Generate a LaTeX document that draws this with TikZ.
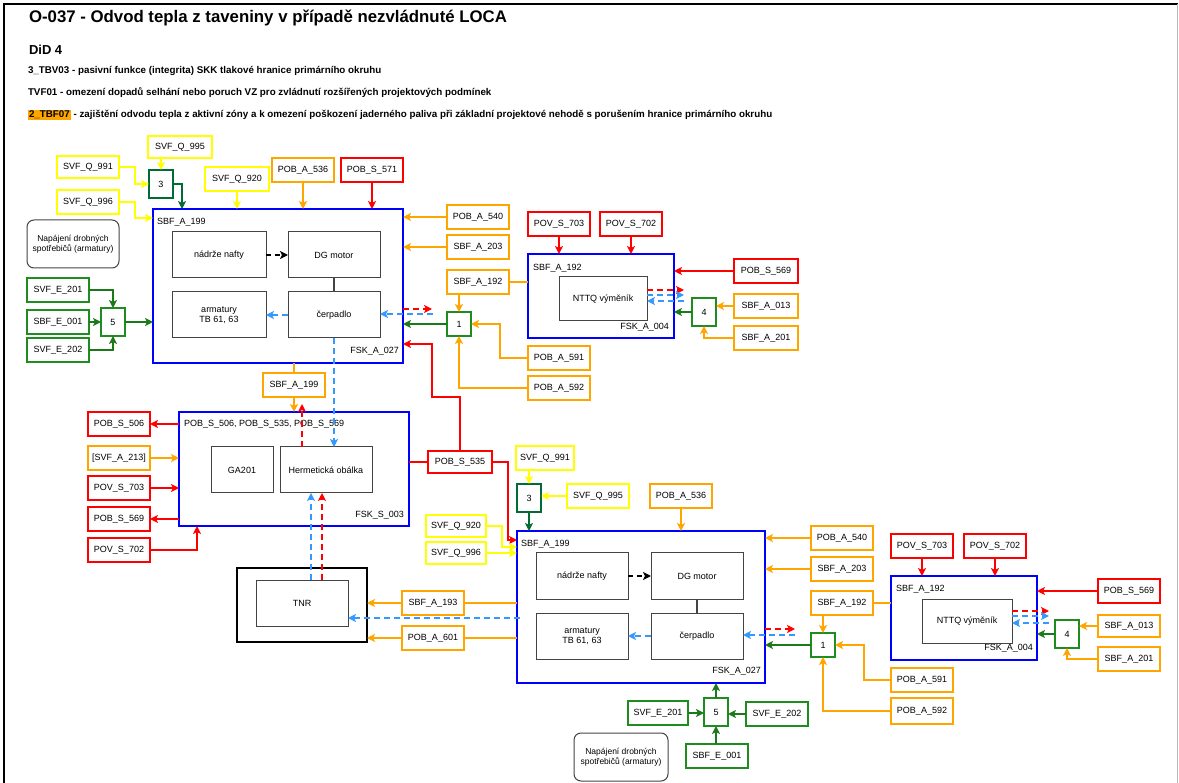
\documentclass[tikz,border=0pt]{standalone}
\usepackage{fontspec}
\setmainfont{Liberation Sans}
\usetikzlibrary{arrows.meta,calc}
\definecolor{cblue}{HTML}{0000FF}
\definecolor{cred}{HTML}{FF0000}
\definecolor{corg}{HTML}{FFA500}
\definecolor{cyel}{HTML}{FFFF00}
\definecolor{cgrn}{HTML}{1E8C1E}
\definecolor{cgrnd}{HTML}{006B33}
\definecolor{cgrna}{HTML}{1A7A1A}
\definecolor{cdash}{HTML}{3399FF}
\definecolor{cgray}{HTML}{444444}
% box given by its corners: style, name, x1, y1, x2, y2, text
% (centre and size are snapped to whole units so the strokes stay sharp)
\newcommand\bx[7]{\node[#1, minimum width={2*round(((#5)-(#3))/2)}, minimum height={2*round(((#6)-(#4))/2)}] (#2) at ({round(((#3)+(#5))/2)},{round(((#4)+(#6))/2)}) {#7};}
\begin{document}
\begin{tikzpicture}[x=1pt,y=-1pt,
  font=\fontsize{9}{10.5}\selectfont,
  box/.style={draw, fill=white, line width=2pt, inner sep=0pt, outer sep=0pt, align=center},
  ybox/.style={box, draw=cyel},
  obox/.style={box, draw=corg},
  rbox/.style={box, draw=cred},
  gbox/.style={box, draw=cgrn},
  gdbox/.style={box, draw=cgrnd},
  cont/.style={draw=cblue, fill=white, line width=2pt, inner sep=0pt, outer sep=0pt},
  inner/.style={draw=cgray, fill=white, line width=1pt, inner sep=0pt, outer sep=0pt, align=center},
  napbox/.style={draw=cgray, fill=white, line width=1pt, rounded corners=7pt, inner sep=0pt, outer sep=0pt, align=center, font=\fontsize{8.5}{10}\selectfont},
  tnrbox/.style={draw=black, fill=white, line width=2.4pt, inner sep=0pt, outer sep=0pt},
  tip/.style={-{Stealth[length=8pt,width=8pt,inset=2pt]}},
  ya/.style={draw=cyel, line width=2pt, tip},
  oa/.style={draw=corg, line width=2pt, tip},
  ol/.style={draw=corg, line width=2pt},
  ra/.style={draw=cred, line width=2pt, tip},
  rl/.style={draw=cred, line width=2pt},
  ga/.style={draw=cgrna, line width=2pt, tip},
  gda/.style={draw=cgrnd, line width=2pt, tip},
  rdash/.style={draw=cred, line width=2pt, dash pattern=on 6pt off 4pt, tip},
  bdash/.style={draw=cdash, line width=2pt, dash pattern=on 6pt off 4pt, tip},
  kdash/.style={draw=black, line width=1.6pt, dash pattern=on 5pt off 4pt, tip},
  lbl/.style={inner sep=0pt, outer sep=0pt}
]
\useasboundingbox (0,0) rectangle (1179,783);
\fill[white] (0,0) rectangle (1179,783);
% page frame
\draw[line width=2pt] (4,783) -- (4,4) -- (1178,4);
\draw[gray!55, line width=1pt] (1177.5,4) -- (1177.5,783);

% ---------- header ----------
\node[lbl, anchor=west, font=\bfseries\fontsize{16.8}{19}\selectfont] (title) at (29,18) {O-037 - Odvod tepla z taveniny v případě nezvládnuté LOCA};
\node[lbl, anchor=west, font=\bfseries\fontsize{13}{15}\selectfont] (did) at (29,50) {DiD 4};
\node[lbl, anchor=west, font=\bfseries\fontsize{9.8}{11}\selectfont] (h1) at (28,71) {3\_TBV03 - pasivní funkce (integrita) SKK tlakové hranice primárního okruhu};
\node[lbl, anchor=west, font=\bfseries\fontsize{9.8}{11}\selectfont] (h2) at (28,93) {TVF01 - omezení dopadů selhání nebo poruch VZ pro zvládnutí rozšířených projektových podmínek};
\node[lbl, anchor=west, font=\bfseries\fontsize{9.8}{11}\selectfont] (h3) at (28,115) {{\setlength\fboxsep{1pt}\colorbox{corg}{2\_TBF07}} - zajištění odvodu tepla z aktivní zóny a k omezení poškození jaderného paliva při základní projektové nehodě s porušením hranice primárního okruhu};

% ---------- upper DG block ----------
\bx{cont}{sbf1}{153}{209}{403}{362}{}
\node[lbl, anchor=west] (sbf1t) at (157,222) {SBF\_A\_199};
\node[lbl, anchor=east] (sbf1b) at (399,351) {FSK\_A\_027};
\bx{inner}{naf1}{172}{232}{265}{277}{nádrže nafty}
\bx{inner}{dg1}{288}{232}{379}{277}{DG motor}
\bx{inner}{arm1}{172}{292}{265}{337}{armatury\\TB 61, 63}
\bx{inner}{cer1}{288}{292}{379}{337}{čerpadlo}

\bx{ybox}{q995}{148}{136}{211}{158}{SVF\_Q\_995}
\bx{ybox}{q991}{57}{156}{119}{178}{SVF\_Q\_991}
\bx{gdbox}{g3a}{149}{170}{173}{197}{3}
\bx{ybox}{q996}{57}{190}{119}{213}{SVF\_Q\_996}
\bx{ybox}{q920}{205}{167}{268}{190}{SVF\_Q\_920}
\bx{obox}{a536}{272}{158}{333}{182}{POB\_A\_536}
\bx{rbox}{s571}{341}{158}{402}{182}{POB\_S\_571}
\bx{napbox}{nap1}{27}{220}{119}{267}{Napájení drobných\\spotřebičů (armatury)}
\bx{gbox}{e201a}{27}{278}{88}{302}{SVF\_E\_201}
\bx{gbox}{e001a}{27}{310}{88}{333}{SBF\_E\_001}
\bx{gbox}{e202a}{27}{338}{88}{362}{SVF\_E\_202}
\bx{gbox}{g5a}{101}{308}{124}{335}{5}

\bx{obox}{a540a}{447}{205}{509}{228}{POB\_A\_540}
\bx{obox}{a203a}{447}{235}{509}{259}{SBF\_A\_203}
\bx{obox}{a192a}{447}{270}{509}{294}{SBF\_A\_192}
\bx{gbox}{g1a}{447}{312}{471}{336}{1}
\bx{obox}{a591a}{528}{346}{590}{370}{POB\_A\_591}
\bx{obox}{a592a}{528}{376}{590}{400}{POB\_A\_592}

% upper heat exchanger block
\bx{rbox}{v703a}{528}{212}{590}{236}{POV\_S\_703}
\bx{rbox}{v702a}{600}{212}{662}{236}{POV\_S\_702}
\bx{cont}{nt1}{528}{254}{673}{338}{}
\node[lbl, anchor=west] (nt1t) at (533,268) {SBF\_A\_192};
\node[lbl, anchor=east] (nt1b) at (669,327) {FSK\_A\_004};
\bx{inner}{ntx1}{559}{277}{647}{320}{NTTQ výměník}
\bx{rbox}{s569a}{734}{259}{797}{282}{POB\_S\_569}
\bx{gbox}{g4a}{692}{298}{716}{326}{4}
\bx{obox}{a013a}{734}{294}{797}{317}{SBF\_A\_013}
\bx{obox}{a201a}{734}{326}{797}{349}{SBF\_A\_201}

% ---------- containment block ----------
\bx{obox}{a199m}{263}{373}{325}{396}{SBF\_A\_199}
\bx{cont}{fsk3}{179}{412}{408}{526}{}
\node[lbl, anchor=west] (fsk3t) at (184,424) {POB\_S\_506, POB\_S\_535, POB\_S\_569};
\node[lbl, anchor=east] (fsk3b) at (404,515) {FSK\_S\_003};
\bx{inner}{ga}{211}{447}{272}{492}{GA201}
\bx{inner}{her}{280}{447}{372}{492}{Hermetická obálka}
\bx{rbox}{s506}{88}{412}{150}{435}{POB\_S\_506}
\bx{obox}{a213}{88}{446}{150}{469}{[SVF\_A\_213]}
\bx{rbox}{v703m}{88}{476}{150}{499}{POV\_S\_703}
\bx{rbox}{s569m}{88}{507}{150}{530}{POB\_S\_569}
\bx{rbox}{v702m}{88}{538}{150}{561}{POV\_S\_702}
\bx{rbox}{s535}{428}{451}{491}{473}{POB\_S\_535}

% ---------- lower DG block ----------
\bx{cont}{sbf2}{517}{531}{765}{683}{}
\node[lbl, anchor=west] (sbf2t) at (521,544) {SBF\_A\_199};
\node[lbl, anchor=east] (sbf2b) at (761,671) {FSK\_A\_027};
\bx{inner}{naf2}{536}{553}{627}{599}{nádrže nafty}
\bx{inner}{dg2}{651}{553}{743}{599}{DG motor}
\bx{inner}{arm2}{536}{613}{627}{659}{armatury\\TB 61, 63}
\bx{inner}{cer2}{651}{613}{743}{659}{čerpadlo}

\bx{ybox}{q991b}{516}{446}{574}{469}{SVF\_Q\_991}
\bx{gdbox}{g3b}{517}{484}{540}{511}{3}
\bx{ybox}{q995b}{567}{484}{628}{508}{SVF\_Q\_995}
\bx{obox}{a536b}{650}{484}{712}{508}{POB\_A\_536}
\bx{ybox}{q920b}{426}{515}{486}{537}{SVF\_Q\_920}
\bx{ybox}{q996b}{426}{542}{486}{564}{SVF\_Q\_996}

\bx{tnrbox}{tnro}{237}{568}{367}{641}{}
\bx{inner}{tnri}{256}{580}{348}{626}{TNR}
\bx{obox}{a193}{402}{591}{464}{614}{SBF\_A\_193}
\bx{obox}{a601}{402}{626}{464}{649}{POB\_A\_601}

\bx{obox}{a540b}{811}{526}{872}{549}{POB\_A\_540}
\bx{obox}{a203b}{811}{557}{872}{580}{SBF\_A\_203}
\bx{obox}{a192b}{811}{591}{872}{614}{SBF\_A\_192}
\bx{gbox}{g1b}{811}{633}{834}{657}{1}
\bx{obox}{a591b}{891}{668}{953}{691}{POB\_A\_591}
\bx{obox}{a592b}{891}{698}{953}{723}{POB\_A\_592}

% lower heat exchanger block
\bx{rbox}{v703b}{891}{534}{953}{557}{POV\_S\_703}
\bx{rbox}{v702b}{964}{534}{1026}{557}{POV\_S\_702}
\bx{cont}{nt2}{891}{576}{1037}{660}{}
\node[lbl, anchor=west] (nt2t) at (896,589) {SBF\_A\_192};
\node[lbl, anchor=east] (nt2b) at (1033,648) {FSK\_A\_004};
\bx{inner}{ntx2}{922}{599}{1011}{642}{NTTQ výměník}
\bx{rbox}{s569b}{1098}{579}{1160}{603}{POB\_S\_569}
\bx{gbox}{g4b}{1055}{620}{1079}{647}{4}
\bx{obox}{a013b}{1098}{615}{1160}{637}{SBF\_A\_013}
\bx{obox}{a201b}{1098}{647}{1160}{670}{SBF\_A\_201}

\bx{gbox}{g5b}{704}{698}{727}{725}{5}
\bx{gbox}{e201b}{628}{701}{688}{725}{SVF\_E\_201}
\bx{gbox}{e202b}{746}{702}{807}{726}{SVF\_E\_202}
\bx{gbox}{e001b}{686}{744}{747}{767}{SBF\_E\_001}
\bx{napbox}{nap2}{574}{733}{667}{780}{Napájení drobných\\spotřebičů (armatury)}

% ---------- connectors: upper DG block ----------
\draw[ya] (g3a.north |- q995.south) -- (g3a.north);
\draw[ya] (q991.east) -| ([xshift=-14pt]g3a.west) -- (g3a.west);
\draw[gda] (g3a.east) -| ([xshift=29pt]sbf1.north west);
\draw[ya] (q996.east) -- ++(16,0) |- ([yshift=-9pt]sbf1.north west);
\draw[ya] (q920.south) -- (q920.south |- sbf1.north);
\draw[oa] (a536.south) -- (a536.south |- sbf1.north);
\draw[ra] (s571.south) -- (s571.south |- sbf1.north);
\draw[kdash] (naf1.east) -- (dg1.west);
\draw[draw=cgray, line width=1.2pt] (dg1.south) -- (cer1.north);
\draw[bdash] (cer1.west) -- (arm1.east);
\draw[ga] (e201a.east) -| (g5a.north);
\draw[ga] (e001a.east) -- (g5a.west);
\draw[ga] (e202a.east) -| (g5a.south);
\draw[ga] (g5a.east) -- (g5a.east -| sbf1.west);
\draw[oa] (a540a.west) -- (a540a.west -| sbf1.east);
\draw[oa] (a203a.west) -- (a203a.west -| sbf1.east);
\draw[ol] (a192a.east) -- (a192a.east -| nt1.west);
\draw[oa] (g1a.north |- a192a.south) -- (g1a.north);
\draw[ga] (g1a.west) -- (g1a.west -| sbf1.east);
\draw[rdash] ($(sbf1.east |- cer1.east)+(0,-6)$) -- ++(29,0);
\draw[bdash] ($(sbf1.east |- cer1.east)+(30,-1)$) -- ($(cer1.east)+(0,-1)$);
\draw[oa] (a591a.west) -- ++(-28,0) |- (g1a.east);
\draw[oa] (a592a.west) -| (g1a.south);
\draw[ra] (s535.north) |- (432,397) |- (sbf1.east |- 0,344);

% upper heat exchanger
\draw[ra] (v703a.south) -- (v703a.south |- nt1.north);
\draw[ra] (v702a.south) -- (v702a.south |- nt1.north);
\draw[ra] (s569a.west) -- (s569a.west -| nt1.east);
\draw[rdash] ($(ntx1.east)+(0,-9)$) -- ++(37,0);
\draw[bdash] ($(ntx1.east)+(0,-4)$) -- ++(37,0);
\draw[bdash] ($(ntx1.east)+(37,2)$) -- ($(ntx1.east)+(0,2)$);
\draw[ga] (g4a.west) -- (g4a.west -| nt1.east);
\draw[oa] (a013a.west) -- (a013a.west -| g4a.east);
\draw[oa] (a201a.west) -| (g4a.south);

% ---------- connectors: containment ----------
\draw[ol] (a199m.north |- sbf1.south) -- (a199m.north);
\draw[oa] (a199m.south) -- (a199m.south |- fsk3.north);
\draw[rdash] ($(her.north)+(-24,0)$) -- ($(her.north)+(-24,-43)$);
\draw[bdash] (cer1.south) -- (cer1.south |- her.north);
\draw[ra] (s506.east -| fsk3.west) -- (s506.east);
\draw[oa] (a213.east) -- (a213.east -| fsk3.west);
\draw[ra] (v703m.east) -- (v703m.east -| fsk3.west);
\draw[ra] (s569m.east -| fsk3.west) -- (s569m.east);
\draw[ra] (v702m.east) -| ([xshift=18pt]fsk3.south west);
\draw[rl] (s535.west -| fsk3.east) -- (s535.west);
\draw[ra] (s535.east) -| (508,540) -- (sbf2.west |- 0,540);

% ---------- connectors: lower DG block ----------
\draw[ya] (q991b.south -| g3b.north) -- (g3b.north);
\draw[ya] (q995b.west) -- (q995b.west -| g3b.east);
\draw[gda] (g3b.south) -- (g3b.south |- sbf2.north);
\draw[oa] (a536b.south) -- (a536b.south |- sbf2.north);
\draw[ya] (q920b.east) -| (502,547) -- (sbf2.west |- 0,547);
\draw[ya] (q996b.east) -- (q996b.east -| sbf2.west);
\draw[kdash] (naf2.east) -- (dg2.west);
\draw[draw=cgray, line width=1.2pt] (dg2.south) -- (cer2.north);
\draw[bdash] (cer2.west) -- (arm2.east);
\draw[ol] (a193.east -| sbf2.west) -- (a193.east);
\draw[oa] (a193.west) -- (a193.west -| tnro.east);
\draw[ol] (a601.east -| sbf2.west) -- (a601.east);
\draw[oa] (a601.west) -- (a601.west -| tnro.east);
\draw[bdash] ($(sbf2.west |- tnri.east)+(3,15)$) -- ($(tnri.east)+(0,15)$);
\draw[bdash] ($(tnri.north)+(9,0)$) -- ($(her.south)+(-15,0)$);
\draw[rdash] ($(tnri.north)+(20,0)$) -- ($(her.south)+(-4,0)$);

\draw[oa] (a540b.west) -- (a540b.west -| sbf2.east);
\draw[oa] (a203b.west) -- (a203b.west -| sbf2.east);
\draw[ol] (a192b.east) -- (a192b.east -| nt2.west);
\draw[oa] (g1b.north |- a192b.south) -- (g1b.north);
\draw[ga] (g1b.west) -- (g1b.west -| sbf2.east);
\draw[rdash] ($(sbf2.east |- cer2.east)+(0,-7)$) -- ++(30,0);
\draw[bdash] ($(sbf2.east |- cer2.east)+(30,-1)$) -- ($(cer2.east)+(0,-1)$);
\draw[oa] (a591b.west) -- ++(-27,0) |- (g1b.east);
\draw[oa] (a592b.west) -| (g1b.south);

% lower heat exchanger
\draw[ra] (v703b.south) -- (v703b.south |- nt2.north);
\draw[ra] (v702b.south) -- (v702b.south |- nt2.north);
\draw[ra] (s569b.west) -- (s569b.west -| nt2.east);
\draw[rdash] ($(ntx2.east)+(0,-10)$) -- ++(37,0);
\draw[bdash] ($(ntx2.east)+(0,-5)$) -- ++(37,0);
\draw[bdash] ($(ntx2.east)+(37,2)$) -- ($(ntx2.east)+(0,2)$);
\draw[ga] (g4b.west) -- (g4b.west -| nt2.east);
\draw[oa] (a013b.west) -- (a013b.west -| g4b.east);
\draw[oa] (a201b.west) -| (g4b.south);

\draw[ga] (g5b.north) -- (g5b.north |- sbf2.south);
\draw[ga] (e201b.east) -- (e201b.east -| g5b.west);
\draw[ga] (e202b.west) -- (e202b.west -| g5b.east);
\draw[ga] (e001b.north -| g5b.south) -- (g5b.south);
\end{tikzpicture}
\end{document}
